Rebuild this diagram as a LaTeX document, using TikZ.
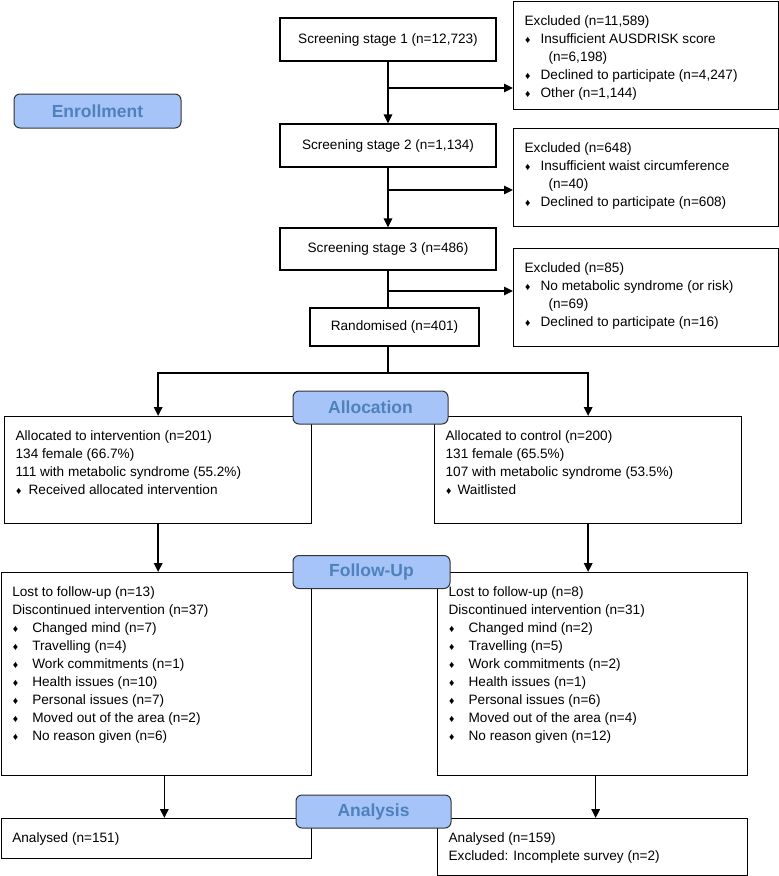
\documentclass[tikz,border=0pt]{standalone}
\usepackage{fontspec}
\setmainfont{Liberation Sans}
\usepackage{xcolor}
\usetikzlibrary{positioning,calc,arrows.meta}

\definecolor{phasefill}{RGB}{166,196,248}
\definecolor{phasetext}{RGB}{79,129,189}
\newcommand{\dmd}{\raisebox{0.5pt}{\fontsize{10.5}{10}\selectfont ♦}}
\newcommand{\bl}[1][16pt]{\makebox[#1][l]{\hspace{0.5pt}\dmd}}
\newcommand{\boxtxt}[3]{\parbox[t][#1][t]{#2}{\raggedright\strut #3}}

\tikzset{
  stage/.style={draw, line width=1.3pt, minimum height=43pt, minimum width=216pt, font=\fontsize{13.6}{18}\selectfont},
  listbox/.style={draw, line width=1.3pt, anchor=north west, inner xsep=11pt, inner ysep=11.4pt, font=\fontsize{13.6}{18}\selectfont},
  phase/.style={draw=black!80, line width=1pt, rounded corners=6pt, fill=phasefill, text=phasetext, font=\fontsize{17.5}{20}\selectfont\bfseries, minimum width=157pt, minimum height=33pt},
  arr/.style={line width=1.6pt, -{Triangle[length=9pt,width=8.5pt]}},
  link/.style={line width=1.6pt},
}

\begin{document}
\begin{tikzpicture}[x=1pt, y=-1pt]
    \useasboundingbox (0,0) rectangle (779,876);

    % Screening
    \node[stage] (scr1) at (388,39.5) {Screening stage 1 (n=12,723)};
    \node[stage] (scr2) at (388,145.5) {Screening stage 2 (n=1,134)};
    \node[stage, minimum height=42pt] (scr3) at (388,249) {Screening stage 3 (n=486)};
    \node[stage, minimum width=169pt, minimum height=38pt] (rand) at (394.5,327) {Randomised (n=401)};

    % Exclusions
    \node[listbox] (ex1) at (513,1) {\boxtxt{85.2pt}{243pt}{Excluded (n=11,589)\\ \bl Insufficient AUSDRISK score\\ \hspace*{24pt}(n=6,198)\\ \bl Declined to participate (n=4,247)\\ \bl Other (n=1,144)}};
    \node[listbox] (ex2) at (513,128) {\boxtxt{75.2pt}{243pt}{Excluded (n=648)\\ \bl Insufficient waist circumference\\ \hspace*{24pt}(n=40)\\ \bl Declined to participate (n=608)}};
    \node[listbox] (ex3) at (513,248) {\boxtxt{75.2pt}{243pt}{Excluded (n=85)\\ \bl No metabolic syndrome (or risk)\\ \hspace*{24pt}(n=69)\\ \bl Declined to participate (n=16)}};

    % Allocation
    \node[listbox] (allocI) at (4,416) {\boxtxt{84.2pt}{285pt}{Allocated to intervention (n=201)\\ 134 female (66.7\%)\\ 111 with metabolic syndrome (55.2\%)\\ \bl[13pt]Received allocated intervention}};
    \node[listbox] (allocC) at (434,416) {\boxtxt{84.2pt}{285pt}{Allocated to control (n=200)\\ 131 female (65.5\%)\\ 107 with metabolic syndrome (53.5\%)\\ \bl[12pt]Waitlisted}};

    % Follow-up
    \node[listbox] (fuI) at (0.7,572) {\boxtxt{180.2pt}{288pt}{Lost to follow-up (n=13)\\ Discontinued intervention (n=37)\\ \bl[20pt]Changed mind (n=7)\\ \bl[20pt]Travelling (n=4)\\ \bl[20pt]Work commitments (n=1)\\ \bl[20pt]Health issues (n=10)\\ \bl[20pt]Personal issues (n=7)\\ \bl[20pt]Moved out of the area (n=2)\\ \bl[20pt]No reason given (n=6)}};
    \node[listbox] (fuC) at (437,572) {\boxtxt{180.2pt}{288pt}{Lost to follow-up (n=8)\\ Discontinued intervention (n=31)\\ \bl[20pt]Changed mind (n=2)\\ \bl[20pt]Travelling (n=5)\\ \bl[20pt]Work commitments (n=2)\\ \bl[20pt]Health issues (n=1)\\ \bl[20pt]Personal issues (n=6)\\ \bl[20pt]Moved out of the area (n=4)\\ \bl[20pt]No reason given (n=12)}};

    % Analysis
    \node[listbox] (anI) at (0.7,818) {\boxtxt{17.2pt}{288pt}{Analysed (n=151)}};
    \node[listbox] (anC) at (437,818) {\boxtxt{34.2pt}{288pt}{Analysed (n=159)\\ Excluded: Incomplete survey (n=2)}};

    % branch points
    \coordinate (b1) at (388,88);
    \coordinate (b2) at (388,190);
    \coordinate (b3) at (388,291);
    \coordinate (split) at (388,373);

    % connectors
    \draw[arr] (scr1) -- (scr2);
    \draw[arr] (scr2) -- (scr3);
    \draw[link] (scr3) -- (scr3.south |- rand.north);
    \draw[arr] (b1) -- (b1 -| ex1.west);
    \draw[arr] (b2) -- (b2 -| ex2.west);
    \draw[arr] (b3) -- (b3 -| ex3.west);
    \draw[link] (scr3.south |- rand.south) -- (split);
    \draw[arr] (split) -| (allocI.north);
    \draw[arr] (split) -| (allocC.north);
    \draw[arr] (allocI) -- (allocI.south |- fuI.north);
    \draw[arr] (allocC) -- (allocC.south |- fuC.north);
    \draw[arr] ([xshift=8pt]fuI.south) -- ([xshift=8pt]anI.north);
    \draw[arr] ([xshift=3pt]fuC.south) -- ([xshift=3pt]anC.north);

    % Phase labels
    \node[phase, minimum width=167pt, minimum height=34pt] (enrol) at (97.5,111) {Enrollment};
    \node[phase, minimum width=155pt] (alloc) at (370.5,407.5) {Allocation};
    \node[phase] (follow) at (371.5,572) {Follow-Up};
    \node[phase, minimum width=155pt] (analysis) at (373.5,811.5) {Analysis};
\end{tikzpicture}
\end{document}
